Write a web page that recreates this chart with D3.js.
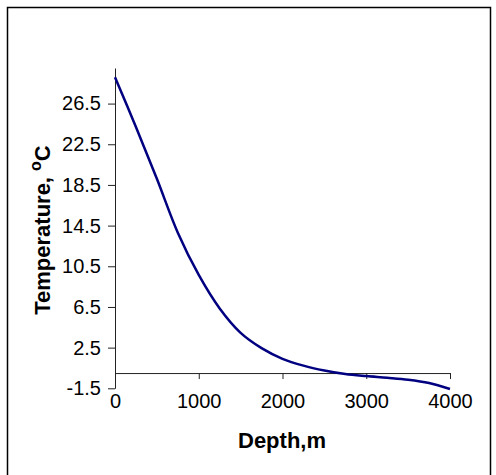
<!DOCTYPE html>
<html><head><meta charset="utf-8">
<script src="https://cdn.jsdelivr.net/npm/d3@7"></script>
<style>body{margin:0;background:#fff}svg{display:block}text{font-family:"Liberation Sans",Arial,sans-serif}</style>
</head><body><svg id="c" width="496" height="475"></svg>
<script>
const depth = [0,250,500,750,1000,1250,1500,1750,2000,2250,2500,2750,3000,3250,3500,3750,4000];
const temperature = [29.1,24.2,19.1,13.8,9.65,6.35,3.95,2.45,1.4,0.73,0.25,-0.1,-0.3,-0.46,-0.65,-0.98,-1.57];
const xTicks = [0,1000,2000,3000,4000];
const yTicks = [-1.5,2.5,6.5,10.5,14.5,18.5,22.5,26.5];
const yMin = -1.5, yMax = 30;

const svg = d3.select("#c");
svg.append("rect").attr("x",7.5).attr("y",7.5).attr("width",483).attr("height",480)
  .attr("fill","none").attr("stroke","#000").attr("stroke-width",1.5);

const x = d3.scaleLinear().domain([0,4000]).range([115,450]);
const y = d3.scaleLinear().domain([yMin,yMax]).range([388.3,68]);

// y axis
const ya = svg.append("g").attr("transform","translate(115,0)")
  .call(d3.axisLeft(y).tickValues(yTicks).tickSize(7).tickPadding(7).tickFormat(d=>d.toFixed(1)).tickSizeOuter(0));
ya.select(".domain").attr("stroke","#222");
ya.selectAll(".tick line").attr("stroke","#222");
ya.selectAll("text").attr("font-size",20).attr("fill","#000").attr("font-family","Liberation Sans, Arial, sans-serif");

// x axis at y=0
const xa = svg.append("g").attr("transform",`translate(0,${y(0)})`)
  .call(d3.axisBottom(x).tickValues(xTicks).tickSize(6).tickPadding(15).tickFormat(d3.format("d")).tickSizeOuter(0));
xa.select(".domain").attr("stroke","#222");
xa.selectAll(".tick line").attr("stroke","#222");
xa.selectAll("text").attr("font-size",20).attr("fill","#000").attr("font-family","Liberation Sans, Arial, sans-serif");

// line
svg.append("path").datum(depth.map((d,i)=>[d,temperature[i]]))
  .attr("fill","none").attr("stroke","#000080").attr("stroke-width",2.5)
  .attr("d", d3.line().x(d=>x(d[0])).y(d=>y(d[1])).curve(d3.curveCatmullRom.alpha(0.5)));

// titles
svg.append("text").attr("x",282).attr("y",448).attr("text-anchor","middle")
  .attr("font-size",22).attr("font-weight","bold").text("Depth,m");
const yt = svg.append("text").attr("transform","translate(50,230) rotate(-90)").attr("text-anchor","middle")
  .attr("font-size",22).attr("font-weight","bold");
yt.append("tspan").text("Temperature, ");
yt.append("tspan").attr("dy",-9).attr("font-size",16).text("o");
yt.append("tspan").attr("dy",9).text("C");
</script></body></html>
